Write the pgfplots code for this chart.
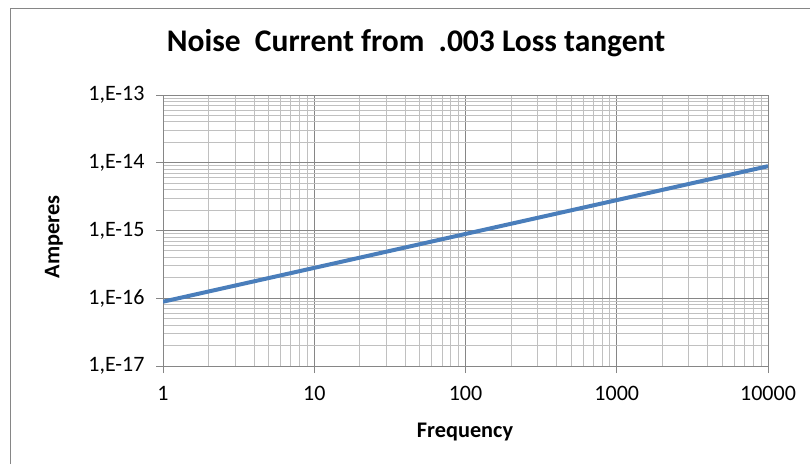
\documentclass[border=0pt]{standalone}
\usepackage{pgfplots}
\pgfplotsset{compat=1.18}
\usepackage{fontspec}
\setmainfont{Carlito}
\definecolor{exblue}{RGB}{74,126,187}
\definecolor{majgrid}{RGB}{134,134,134}
\definecolor{mingrid}{RGB}{192,192,192}
\begin{document}
\begin{tikzpicture}[x=1pt,y=1pt]
\useasboundingbox (0,0) rectangle (810,464);
\draw[majgrid,line width=1pt] (10,0) -- (10,455) -- (810,455);
\begin{axis}[
  at={(163pt,98pt)}, anchor=south west,
  scale only axis, width=605pt, height=271pt,
  xmode=log, ymode=log,
  xmin=1, xmax=10000, ymin=1e-17, ymax=1e-13,
  xtick={1,10,100,1000,10000},
  xticklabels={1,10,100,1000,10000},
  ytick={1e-17,1e-16,1e-15,1e-14,1e-13},
  yticklabels={{1,E-17},{1,E-16},{1,E-15},{1,E-14},{1,E-13}},
  minor xtick={2,3,4,5,6,7,8,9,20,30,40,50,60,70,80,90,200,300,400,500,600,700,800,900,2000,3000,4000,5000,6000,7000,8000,9000},
  minor ytick={2e-17,3e-17,4e-17,5e-17,6e-17,7e-17,8e-17,9e-17,2e-16,3e-16,4e-16,5e-16,6e-16,7e-16,8e-16,9e-16,2e-15,3e-15,4e-15,5e-15,6e-15,7e-15,8e-15,9e-15,2e-14,3e-14,4e-14,5e-14,6e-14,7e-14,8e-14,9e-14},
  grid=both,
  major grid style={majgrid,line width=1pt},
  minor grid style={mingrid,line width=1pt},
  axis line style={majgrid,line width=1pt},
  tick style={majgrid,line width=1pt},
  major tick length=7pt, minor tick length=0pt,
  tick align=outside,
  xtick pos=bottom, ytick pos=left,
  tick label style={font=\fontsize{22}{24}\selectfont, text=black},
  xticklabel style={yshift=-10pt},
  yticklabel style={xshift=-8pt},
  /pgf/number format/assume math mode=true,
]
\addplot[exblue, line width=4pt] coordinates {
 (1,8.9e-17) (10,2.81e-16) (100,8.9e-16) (1000,2.81e-15) (10000,8.9e-15)
};
\end{axis}
\node[font=\fontsize{31.5}{34}\selectfont\bfseries, anchor=base] at (416,412) {Noise\ \ Current from\ \ .003 Loss tangent};
\node[font=\fontsize{22.3}{24}\selectfont\bfseries, anchor=base] at (465,27) {Frequency};
\node[font=\fontsize{22.3}{24}\selectfont\bfseries, rotate=90] at (54,227) {Amperes};
\end{tikzpicture}
\end{document}
